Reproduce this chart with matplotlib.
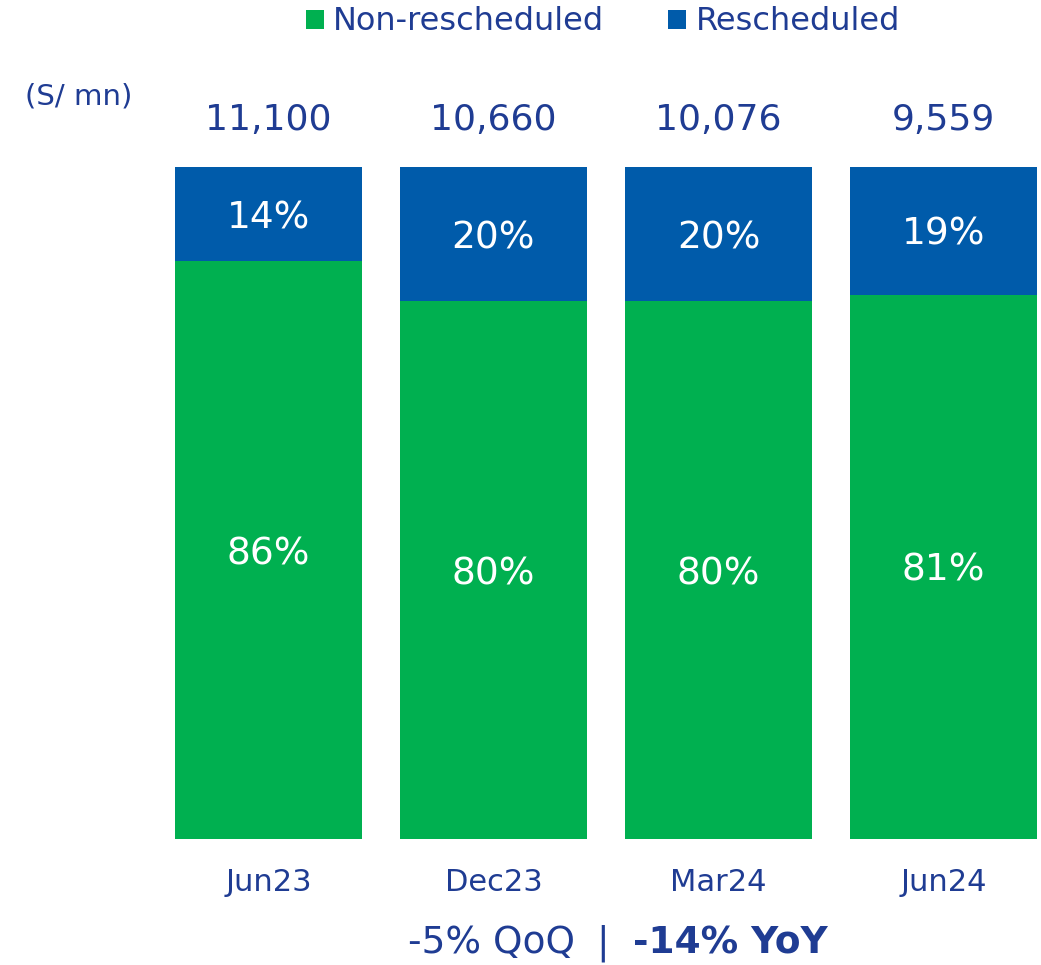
import numpy as np
import matplotlib.pyplot as plt

# data
periods = ['Jun23', 'Dec23', 'Mar24', 'Jun24']
totals = ['11,100', '10,660', '10,076', '9,559']
non_resched = [86, 80, 80, 81]
resched = [14, 20, 20, 19]

green = '#00B050'
blue = '#005BAA'
navy = '#1F3C93'

W, H = 1041, 965
fig = plt.figure(figsize=(W / 100, H / 100), dpi=100)

# bar centres at 268.5 px, spacing 225 px; bars from y=839 to y=167
ax = fig.add_axes([0, (H - 839) / H, 1, 672 / H])
x = np.arange(len(periods))
ax.set_xlim(-268.5 / 225, (W - 268.5) / 225)
ax.set_ylim(0, 100)
ax.axis('off')

width = 187 / 225
b1 = ax.bar(x, non_resched, width, color=green, label='Non-rescheduled')
b2 = ax.bar(x, resched, width, bottom=non_resched, color=blue, label='Rescheduled')

for i in range(len(periods)):
    ax.text(x[i], non_resched[i] / 2 - 0.6, f'{non_resched[i]}%', ha='center', va='center',
            color='white', fontsize=27)
    ax.text(x[i], non_resched[i] + resched[i] / 2 - 0.6, f'{resched[i]}%', ha='center',
            va='center', color='white', fontsize=27)
    ax.text(x[i], 107.0, totals[i], ha='center', va='center', color=navy, fontsize=26)
    ax.text(x[i], -6.5, periods[i], ha='center', va='center', color=navy, fontsize=22)

fig.text(25 / W, 1 - 97 / H, '(S/ mn)', ha='left', va='center', color=navy, fontsize=21)

fig.legend(handles=[b1, b2], loc='center', bbox_to_anchor=(603 / W, 1 - 22 / H), ncol=2,
           frameon=False, fontsize=23, handlelength=0.55, handleheight=0.55,
           handletextpad=0.3, columnspacing=2.0, labelcolor=navy)

y_foot = 1 - 943 / H
fig.text(575 / W, y_foot, '-5% QoQ', ha='right', va='center', color=navy, fontsize=27)
fig.text(603 / W, y_foot, '|', ha='center', va='center', color=navy, fontsize=27)
fig.text(633 / W, y_foot, '-14% YoY', ha='left', va='center', color=navy, fontsize=27,
         fontweight='bold')

fig.savefig('out.png', dpi=100)
